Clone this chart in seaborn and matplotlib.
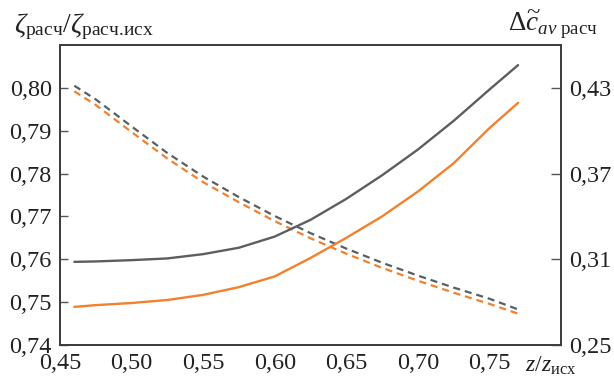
import matplotlib
matplotlib.use("Agg")
import matplotlib.pyplot as plt
import numpy as np
import pandas as pd
import seaborn as sns
from matplotlib.ticker import FuncFormatter

# ---- data ----
z = [0.46, 0.475, 0.50, 0.525, 0.55, 0.575, 0.60, 0.625, 0.65, 0.675, 0.70, 0.725, 0.75, 0.77]
zeta_gray = [0.8005, 0.7973, 0.7910, 0.7848, 0.7793, 0.7745, 0.7701, 0.7661, 0.7625, 0.7592,
             0.7562, 0.7534, 0.7508, 0.7483]
zeta_orange = [0.7992, 0.7960, 0.7897, 0.7835, 0.7780, 0.7733, 0.7689, 0.7649, 0.7613, 0.7580,
               0.7550, 0.7522, 0.7496, 0.7473]
dc_gray = [0.3082, 0.3085, 0.3094, 0.3106, 0.3136, 0.3181, 0.3259, 0.3376, 0.3523, 0.3688,
           0.3868, 0.4069, 0.4288, 0.4459]
dc_orange = [0.2767, 0.2779, 0.2794, 0.2815, 0.2851, 0.2905, 0.2980, 0.3109, 0.3250, 0.3400,
             0.3574, 0.3772, 0.4018, 0.4195]

x_ticks = [0.45, 0.50, 0.55, 0.60, 0.65, 0.70, 0.75]
left_ticks = [0.74, 0.75, 0.76, 0.77, 0.78, 0.79, 0.80]
right_ticks = [0.25, 0.31, 0.37, 0.43]

GRAY = "#5b5f62"
ORANGE = "#f2812e"

sns.set_style("white")
plt.rcParams["font.family"] = ["Liberation Serif", "DejaVu Serif"]
plt.rcParams["mathtext.fontset"] = "custom"
plt.rcParams["mathtext.rm"] = "Liberation Serif"
plt.rcParams["mathtext.it"] = "Liberation Serif:italic"
plt.rcParams["mathtext.bf"] = "Liberation Serif:bold"

fig = plt.figure(figsize=(6.14, 3.81), dpi=100)
ax = fig.add_axes([60 / 614, 1 - 345 / 381, (561 - 60) / 614, (345 - 45) / 381])
ax2 = ax.twinx()

df = pd.DataFrame({"z": z, "zg": zeta_gray, "zo": zeta_orange, "dg": dc_gray, "do": dc_orange})

dash = (0, (3.2, 2.2))
sns.lineplot(data=df, x="z", y="zg", ax=ax, color=GRAY, lw=1.6, linestyle=dash)
sns.lineplot(data=df, x="z", y="zo", ax=ax, color=ORANGE, lw=1.6, linestyle=dash)
sns.lineplot(data=df, x="z", y="dg", ax=ax2, color=GRAY, lw=1.7)
sns.lineplot(data=df, x="z", y="do", ax=ax2, color=ORANGE, lw=1.7)

ax.set_xlim(0.45, 0.80)
ax.set_ylim(0.74, 0.81)
ax2.set_ylim(0.25, 0.46)
ax.set_xticks(x_ticks)
ax.set_yticks(left_ticks)
ax2.set_yticks(right_ticks)

fmt = FuncFormatter(lambda v, p: f"{v:.2f}".replace(".", ","))
ax.xaxis.set_major_formatter(fmt)
ax.yaxis.set_major_formatter(fmt)
ax2.yaxis.set_major_formatter(fmt)

for a in (ax, ax2):
    a.set_xlabel("")
    a.set_ylabel("")
    a.grid(False)
    for s in a.spines.values():
        s.set_color("#3a3a3a")
        s.set_linewidth(1.2)

ax.tick_params(axis="both", direction="in", length=6, width=1, color="#555555",
               labelsize=17.5, labelcolor="#222222")
ax.tick_params(axis="y", pad=6)
ax.tick_params(axis="x", pad=6)
ax2.tick_params(axis="y", direction="in", length=7, width=1, color="#555555",
                labelsize=17.5, labelcolor="#222222", pad=6)

fig.text(14 / 614, 1 - 27 / 381, r"$\zeta_{\mathrm{расч}}/\zeta_{\mathrm{расч.\!исх}}$",
         fontsize=20, va="center", ha="left", color="#222222")
fig.text(598 / 614, 1 - 25 / 381, r"$\Delta\widetilde{c}_{av\ \mathrm{расч}}$",
         fontsize=19.5, va="center", ha="right", color="#222222")
fig.text(525 / 614, 1 - 366 / 381, r"$z/z_{\mathrm{исх}}$",
         fontsize=17, va="center", ha="left", color="#222222")

fig.savefig("out.png", dpi=100)
